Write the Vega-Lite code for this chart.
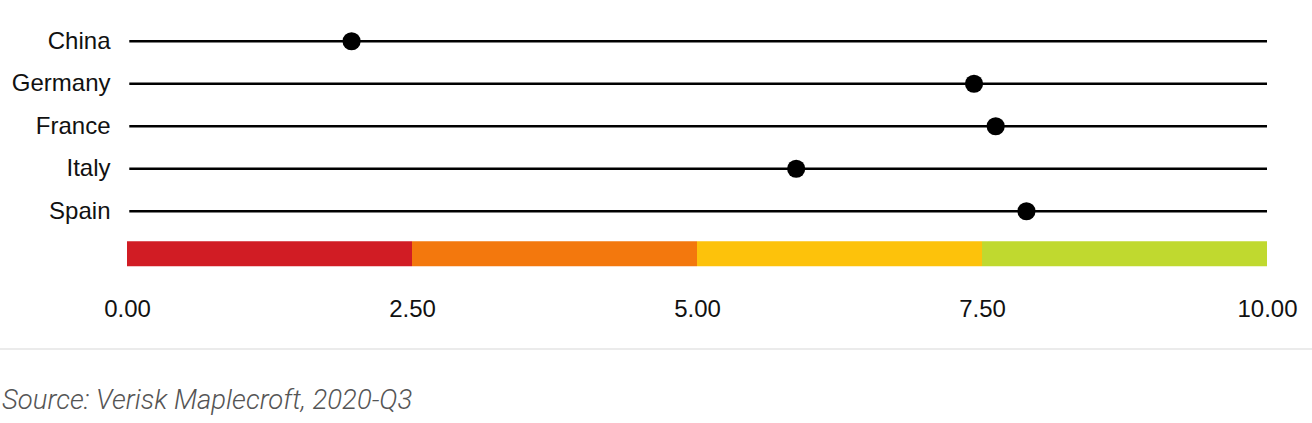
{
  "$schema": "https://vega.github.io/schema/vega-lite/v6.json",
  "width": 1140,
  "height": 255,
  "autosize": {"type": "none"},
  "padding": {"left": 127, "top": 20, "right": 45, "bottom": 148},
  "background": "white",
  "config": {"view": {"stroke": null}, "font": "Liberation Sans"},
  "title": {
    "text": "Source: Verisk Maplecroft, 2020-Q3",
    "orient": "bottom",
    "anchor": "start",
    "frame": "bounds",
    "font": "Roboto",
    "fontStyle": "italic",
    "fontWeight": 300,
    "fontSize": 27.5,
    "color": "#555555",
    "offset": 37,
    "dx": 3
  },
  "datasets": {
    "scores": [
      {"country": "China", "score": 1.97},
      {"country": "Germany", "score": 7.43},
      {"country": "France", "score": 7.62},
      {"country": "Italy", "score": 5.87},
      {"country": "Spain", "score": 7.89}
    ],
    "bands": [
      {"start": 0, "end": 2.5, "color": "#d11c24"},
      {"start": 2.5, "end": 5, "color": "#f3780d"},
      {"start": 5, "end": 7.5, "color": "#fdc20b"},
      {"start": 7.5, "end": 10, "color": "#c0d92f"}
    ],
    "sep": [{"pos": -0.29}]
  },
  "layer": [
    {
      "layer": [
        {
          "data": {"name": "scores"},
          "mark": {"type": "rule", "strokeWidth": 2.6, "color": "#000000"},
          "encoding": {
            "y": {
              "field": "country",
              "type": "nominal",
              "scale": {"type": "point", "domain": ["China", "Germany", "France", "Italy", "Spain", "_bar"], "padding": 0.5},
              "axis": {
                "title": null,
                "domain": false,
                "ticks": false,
                "grid": false,
                "labelPadding": 17,
                "labelFontSize": 24,
                "labelColor": "#111111",
                "labelFont": "Liberation Sans",
                "labelExpr": "datum.value == '_bar' ? '' : datum.value"
              }
            },
            "x": {
              "datum": 0.02,
              "type": "quantitative",
              "scale": {"domain": [0, 10], "nice": false},
              "axis": {
                "title": null,
                "values": [0, 2.5, 5, 7.5, 10],
                "format": ".2f",
                "domain": false,
                "ticks": false,
                "grid": false,
                "labelFlush": false,
                "labelBound": false,
                "labelPadding": 22,
                "labelFontSize": 24,
                "labelColor": "#111111",
                "labelFont": "Liberation Sans"
              }
            },
            "x2": {"datum": 10}
          }
        },
        {
          "data": {"name": "scores"},
          "mark": {"type": "circle", "size": 330, "opacity": 1, "color": "#000000"},
          "encoding": {
            "y": {"field": "country", "type": "nominal"},
            "x": {"field": "score", "type": "quantitative"}
          }
        },
        {
          "data": {"name": "bands"},
          "mark": {"type": "rule", "strokeWidth": 25, "strokeCap": "butt"},
          "encoding": {
            "y": {"datum": "_bar", "type": "nominal"},
            "x": {"field": "start", "type": "quantitative"},
            "x2": {"field": "end"},
            "color": {"field": "color", "type": "nominal", "scale": null, "legend": null}
          }
        }
      ]
    },
    {
      "data": {"name": "sep"},
      "mark": {"type": "rule", "strokeWidth": 2, "color": "#ebebeb"},
      "encoding": {
        "y": {"field": "pos", "type": "quantitative", "scale": {"domain": [0, 1]}, "axis": null},
        "x": {"datum": -1.114, "type": "quantitative"},
        "x2": {"datum": 10.395}
      }
    }
  ],
  "resolve": {"scale": {"y": "independent"}}
}
